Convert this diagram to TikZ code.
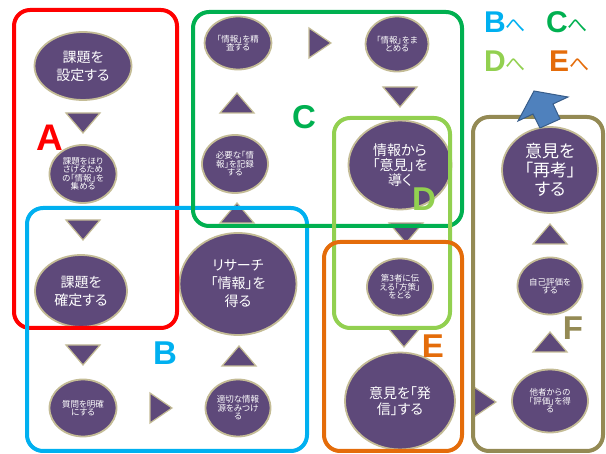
\documentclass[tikz,border=0pt]{standalone}
\usepackage{fontspec}
\setmainfont{Liberation Sans}
\newfontfamily\jp[RawFeature=+palt]{Noto Sans CJK JP}
\usetikzlibrary{shapes.geometric}
\definecolor{nodefill}{RGB}{94,73,122}
\definecolor{nodeline}{RGB}{196,188,150}
\definecolor{cRed}{RGB}{255,0,0}
\definecolor{cBlue}{RGB}{0,176,240}
\definecolor{cGreen}{RGB}{0,176,80}
\definecolor{cLime}{RGB}{146,208,80}
\definecolor{cOrange}{RGB}{228,108,10}
\definecolor{cOlive}{RGB}{148,138,84}
\definecolor{arrowfill}{RGB}{79,129,189}
\definecolor{arrowline}{RGB}{56,93,138}
\tikzset{
  bub/.style={ellipse, fill=nodefill, draw=nodeline, line width=1.8pt, text=white,
    inner sep=0pt, align=center},
  big/.style={bub, font=\jp\fontsize{14}{18}\selectfont},
  bigger/.style={bub, font=\jp\fontsize{17}{19}\selectfont},
  small/.style={bub, font=\jp\fontsize{8.5}{8.5}\selectfont},
  sz/.style 2 args={minimum width=#1pt, minimum height=#2pt},
  tri/.style={fill=nodefill, draw=nodeline, line width=1.2pt, line join=miter},
  grp/.style={draw=#1, line width=4pt, rounded corners=16pt},
  grplabel/.style={text=#1, font=\bfseries\fontsize{33}{33}\selectfont, inner sep=0pt},
  dest/.style={text=#1, font=\bfseries\fontsize{30}{30}\selectfont, inner sep=0pt, anchor=west},
  tridown/.pic={\path[tri] (-17,-10) -- (17,-10) -- (0,10) -- cycle;},
  triup/.pic={\path[tri] (-17,10) -- (17,10) -- (0,-10) -- cycle;},
  triright/.pic={\path[tri] (-11,-15) -- (11,0) -- (-11,15) -- cycle;},
}
\newcommand{\he}{{\jp\mdseries\fontsize{20}{20}\selectfont へ}}
\begin{document}
\begin{tikzpicture}[x=1pt,y=-1pt]
\useasboundingbox (0,0) rectangle (606,454);
% nodes
\node[big, sz={97}{68}] (n1) at (83,66) {課題を\\設定する};
\node[small, sz={67}{58}] (n2) at (83,174) {課題をほり\\さげるため\\の「情報」を\\集める};
\node[big, sz={92}{72}] (n3) at (81,291) {課題を\\確定する};
\node[small, sz={67}{57}] (n4) at (83,408) {質問を明確\\にする};
\node[small, sz={65}{57}] (n5) at (238,408) {適切な情報\\源をみつけ\\る};
\node[big, sz={117}{102}] (n6) at (238,284) {リサーチ\\「情報」を\\得る};
\node[small, sz={66}{58}] (n7) at (235,164) {必要な「情\\報」を記録\\する};
\node[small, sz={67}{53}] (n8) at (238,43) {「情報」を精\\査する};
\node[small, sz={63}{55}] (n9) at (397,44) {「情報」をま\\とめる};
\node[big, sz={103}{89}, font=\jp\fontsize{14}{15}\selectfont] (n10) at (400,165) {情報から\\「意見」を\\導く};
\node[small, sz={66}{57}] (n11) at (400,287) {第3者に伝\\える「方策」\\をとる};
\node[big, sz={110}{97}, font=\jp\fontsize{14}{16}\selectfont] (n12) at (400,401) {意見を「発\\信」する};
\node[small, sz={76}{63}] (n13) at (550,401) {他者からの\\「評価」を得\\る};
\node[small, sz={65}{57}] (n14) at (550,286) {自己評価を\\する};
\node[bigger, sz={96}{86}] (n15) at (550,170) {意見を\\「再考」\\する};
% triangles
\pic at (83,123) {tridown};
\pic at (83,230) {tridown};
\pic at (83,355) {tridown};
\pic at (400,97) {tridown};
\pic at (406,233) {tridown};
\pic at (404,337) {tridown};
\pic at (239,356) {triup};
\pic at (237,213) {triup};
\pic at (237,103) {triup};
\pic at (550,342) {triup};
\pic at (550,234) {triup};
\pic at (161,408) {triright};
\pic at (320,43) {triright};
\pic at (485,402) {triright};
% group boxes
\draw[grp=cRed] (14,10) rectangle (177,328);
\draw[grp=cBlue] (27,208) rectangle (307,451);
\draw[grp=cGreen] (193,12) rectangle (462,226);
\draw[grp=cLime] (334,118) rectangle (450,328);
\draw[grp=cOrange] (324,242) rectangle (462,451);
\draw[grp=cOlive] (473,117) rectangle (603,451);
% group labels
\node[grplabel=cRed, font=\bfseries\fontsize{37}{37}\selectfont] (la) at (50,138) {A};
\node[grplabel=cBlue] (lb) at (165,353) {B};
\node[grplabel=cGreen] (lc) at (304,117) {C};
\node[grplabel=cLime] (ld) at (424,199) {D};
\node[grplabel=cOrange] (le) at (433,346) {E};
\node[grplabel=cOlive] (lf) at (573,328) {F};
% destinations
\node[dest=cBlue] (db) at (484,22) {B\he};
\node[dest=cGreen] (dc) at (546,22) {C\he};
\node[dest=cLime] (dd) at (484,61) {D\he};
\node[dest=cOrange] (de) at (549,61) {E\he};
% block arrow
\draw[fill=arrowfill, draw=arrowline, line width=1pt, line join=miter]
  (534,91) -- (518,121) -- (533,114) -- (540,128) -- (560,119) -- (553,104) -- (568,97) -- cycle;
\end{tikzpicture}
\end{document}
